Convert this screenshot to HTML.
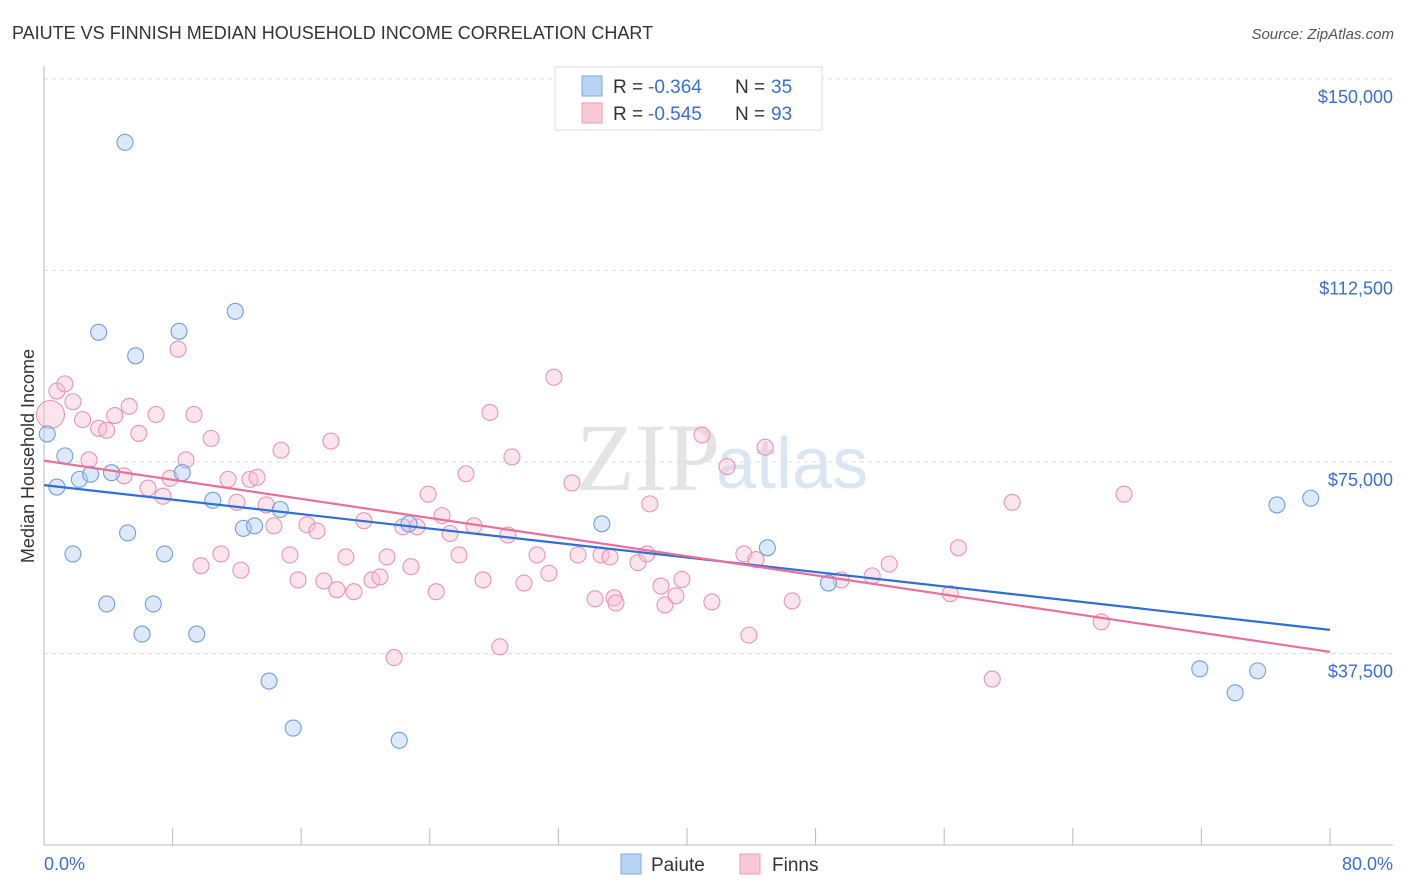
<!DOCTYPE html>
<html><head><meta charset="utf-8"><style>
body{margin:0;background:#fff;font-family:"Liberation Sans",sans-serif;}
svg{display:block}
</style></head><body>
<svg id="chart" width="1406" height="892" xmlns="http://www.w3.org/2000/svg">
<text x="12" y="39" font-size="18" fill="#333">PAIUTE VS FINNISH MEDIAN HOUSEHOLD INCOME CORRELATION CHART</text>
<text x="1394" y="39" font-size="15" fill="#555" font-style="italic" text-anchor="end">Source: ZipAtlas.com</text>
<text x="720" y="490" font-size="96" fill="#e4e4e4" text-anchor="end" font-family="Liberation Serif">ZIP</text>
<text x="716" y="488" font-size="72" fill="#dbe6f5">atlas</text>
<g id="grid"></g><g id="axes"></g><g id="pts"></g><g id="lines"></g>
<text transform="translate(34,456) rotate(-90)" font-size="18" fill="#333" text-anchor="middle">Median Household Income</text>
<text x="44" y="870" font-size="18" fill="#3a6fd0">0.0%</text>
<text x="1393" y="870" font-size="18" fill="#3a6fd0" text-anchor="end">80.0%</text>
<g>
<rect x="555" y="67" width="267" height="63" fill="#fff" stroke="#ddd"/>
<rect x="582" y="76" width="20" height="20" fill="#b9d3f5" stroke="#7fa8e3"/>
<rect x="582" y="103" width="20" height="20" fill="#f9c9d8" stroke="#ec9bb4"/>
<text x="613" y="93" font-size="19" fill="#333">R =</text><text x="648" y="93" font-size="19" fill="#3a6fd0">-0.364</text>
<text x="735" y="93" font-size="19" fill="#333">N =</text><text x="771" y="93" font-size="19" fill="#3a6fd0">35</text>
<text x="613" y="120" font-size="19" fill="#333">R =</text><text x="648" y="120" font-size="19" fill="#3a6fd0">-0.545</text>
<text x="735" y="120" font-size="19" fill="#333">N =</text><text x="771" y="120" font-size="19" fill="#3a6fd0">93</text>
</g>
<g><rect x="621" y="854" width="20" height="20" fill="#b9d3f5" stroke="#7fa8e3"/><text x="651" y="871" font-size="19" fill="#333">Paiute</text></g>
<g><rect x="740" y="854" width="20" height="20" fill="#f9c9d8" stroke="#ec9bb4"/><text x="772" y="871" font-size="19" fill="#333">Finns</text></g>
</svg>
<script>
const yTicks=[37500,75000,112500,150000];
const yTickLabels=["$37,500","$75,000","$112,500","$150,000"];
const xTicks=[0,8,16,24,32,40,48,56,64,72,80];
const paiuteX=[5.04,3.4,8.4,11.9,5.7,0.2,1.3,0.8,2.2,2.9,4.2,8.6,10.5,1.8,5.2,7.5,3.9,6.8,6.1,9.5,12.4,13.1,14.7,22.7,14.0,15.5,22.1,34.7,45.0,48.8,71.9,74.1,75.5,76.7,78.8];
const paiuteY=[137600,100400,100600,104500,95800,80500,76200,70100,71600,72600,72900,72900,67500,57000,61100,57000,47200,47200,41300,41300,62000,62500,65700,62900,32100,22900,20500,62900,58200,51300,34500,29800,34100,66600,67900];
const finnX=[0.4,0.8,1.3,1.8,2.4,3.4,3.9,4.4,5.3,5.9,6.97,8.34,9.33,10.4,2.8,4.98,6.47,7.4,7.84,8.83,9.77,11.01,11.45,12.0,12.25,12.81,13.25,13.82,14.3,14.75,15.3,15.8,16.36,16.98,17.41,17.85,18.22,18.78,19.28,19.9,20.4,20.9,21.34,21.78,22.33,22.83,23.2,23.9,24.4,24.76,25.26,25.82,26.25,26.75,27.31,27.74,28.36,28.86,29.11,29.86,30.67,31.41,31.72,32.84,33.22,34.28,34.65,35.21,35.46,35.58,36.95,37.51,37.69,38.38,38.63,39.31,39.68,40.93,41.55,42.49,43.54,43.85,44.29,44.86,46.54,49.59,51.52,52.58,56.38,56.88,58.99,60.23,65.77,67.19];
const finnY=[84300,88900,90300,86800,83300,81600,81200,84100,85900,80600,84300,97100,84300,79600,75400,72300,69900,68300,71800,75400,54700,57000,71600,67100,53800,71600,72000,66600,62500,77300,56800,51900,62700,61500,51700,79100,50000,56400,49600,63500,51900,52500,56400,36700,62300,54500,62300,68700,49600,64500,61000,56800,72700,62500,51900,84700,38800,60700,76000,51300,56800,53200,91600,70900,56800,48200,56800,56400,48400,47400,55300,57000,66800,50700,47000,48800,52000,80300,47600,74100,57000,41100,55900,77900,47800,51900,52700,55000,49200,58200,32500,67100,43700,68700];
const finnR=[14];
const NS="http://www.w3.org/2000/svg";
const X0=44,X1=1330,Y0=845,YTOP=79;
const xs=p=>X0+(p/80)*(X1-X0);
const ys=v=>Y0-(v/150000)*(Y0-YTOP);
const grid=document.getElementById('grid'),axes=document.getElementById('axes'),pts=document.getElementById('pts'),lines=document.getElementById('lines');
yTicks.forEach((t,i)=>{
 const l=document.createElementNS(NS,'line');
 l.setAttribute('x1',44);l.setAttribute('x2',1393);l.setAttribute('y1',ys(t));l.setAttribute('y2',ys(t));
 l.setAttribute('stroke','#ddd');l.setAttribute('stroke-dasharray','4,4');
 
 
 grid.appendChild(l);
 const tx=document.createElementNS(NS,'text');
 tx.setAttribute('x',1393);tx.setAttribute('y',ys(t)+24);tx.setAttribute('text-anchor','end');
 tx.setAttribute('font-size','18');tx.setAttribute('fill','#3a6fd0');tx.textContent=yTickLabels[i];
 
 
 axes.appendChild(tx);
});
const ya=document.createElementNS(NS,'line');
ya.setAttribute('x1',44);ya.setAttribute('x2',44);ya.setAttribute('y1',66);ya.setAttribute('y2',845);ya.setAttribute('stroke','#bbb');


axes.appendChild(ya);
const xa=document.createElementNS(NS,'line');
xa.setAttribute('x1',44);xa.setAttribute('x2',1393);xa.setAttribute('y1',845);xa.setAttribute('y2',845);xa.setAttribute('stroke','#bbb');


axes.appendChild(xa);
xTicks.forEach(t=>{
 const l=document.createElementNS(NS,'line');
 l.setAttribute('x1',xs(t));l.setAttribute('x2',xs(t));l.setAttribute('y1',828);l.setAttribute('y2',845);l.setAttribute('stroke','#bbb');
 
 
 axes.appendChild(l);
});
function dots(X,Y,fill,stroke,name){
 X.forEach((x,i)=>{
  const c=document.createElementNS(NS,'circle');
  c.setAttribute('cx',xs(x));c.setAttribute('cy',ys(Y[i]));
  c.setAttribute('r',(name==='finns-point'&&i<finnR.length)?finnR[i]:8);
  c.setAttribute('fill',fill);c.setAttribute('fill-opacity','0.4');c.setAttribute('stroke',stroke);c.setAttribute('stroke-width','1.1');
  
  
  pts.appendChild(c);
 });
}
dots(finnX,finnY,'#f7bccf','#e995b0','finns-point');
dots(paiuteX,paiuteY,'#a9c8f0','#6f9fe0','paiute-point');
function fit(X,Y,color,name){
 const n=X.length,mx=X.reduce((a,b)=>a+b)/n,my=Y.reduce((a,b)=>a+b)/n;
 let sxy=0,sxx=0;X.forEach((x,i)=>{sxy+=(x-mx)*(Y[i]-my);sxx+=(x-mx)*(x-mx);});
 const b=sxy/sxx,a=my-b*mx;
 const l=document.createElementNS(NS,'line');
 l.setAttribute('x1',xs(0));l.setAttribute('y1',ys(a));l.setAttribute('x2',xs(80));l.setAttribute('y2',ys(a+b*80));
 l.setAttribute('stroke',color);l.setAttribute('stroke-width','2.2');
 
 
 lines.appendChild(l);
}
fit(paiuteX,paiuteY,'#2f6fd6','paiute-trend-line');
fit(finnX,finnY,'#e8709a','finns-trend-line');
</script>
</body></html>
